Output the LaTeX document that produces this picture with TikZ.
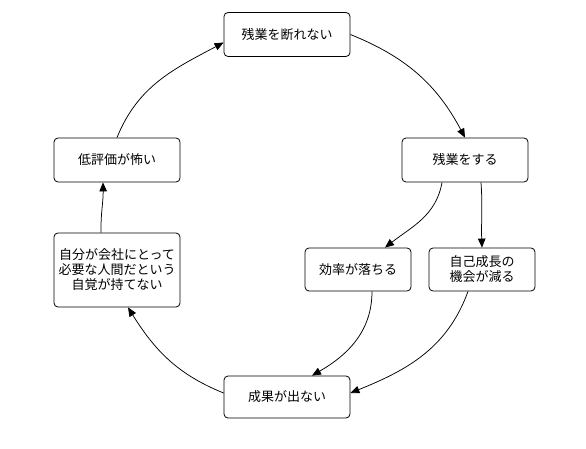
\documentclass[tikz,border=0pt]{standalone}
\usepackage{fontspec}
\setmainfont{Noto Sans CJK JP}
\usepackage{tikz}
\usetikzlibrary{arrows.meta}

\tikzset{
  box/.style={draw, rounded corners=4pt, line width=.8pt, inner sep=0pt,
    minimum width=126pt, minimum height=44pt, align=center,
    font=\fontsize{13}{15}\selectfont},
  flow/.style={-{Triangle[length=9pt,width=7.5pt]}, line width=.75pt},
}

\begin{document}
\begin{tikzpicture}[x=1pt,y=-1pt]
  \useasboundingbox (0,0) rectangle (586,449);
  \node (nr) [box] at (287,34.5) {残業を断れない};
  \node (ov) [box] at (465,160) {残業をする};
  \node (fe) [box] at (117,160) {低評価が怖い};
  \node (aw) [box, minimum height=74pt] at (117,270)
    {自分が会社にとって\\必要な人間だという\\自覚が持てない};
  \node (ef) [box, minimum width=106pt, minimum height=43pt] at (358,269.5) {効率が落ちる};
  \node (gr) [box, minimum width=106pt, minimum height=43pt] at (482,269.5)
    {自己成長の\\機会が減る};
  \node (rs) [box, minimum height=42pt] at (287,397) {成果が出ない};
  \draw[flow] (fe.north) to[out=68, in=208] ([yshift=-8pt]nr.west);
  \draw[flow] (nr.east) to[out=-22, in=118] (ov.north);
  \draw[flow] ([xshift=-23pt]ov.south) to[out=-100, in=38] ([xshift=27pt]ef.north);
  \draw[flow] ([xshift=16pt]ov.south) to[out=-86, in=92] (gr.north);
  \draw[flow] ([xshift=14pt]ef.south) to[out=-90, in=30] ([xshift=25pt]rs.north);
  \draw[flow] ([xshift=-14pt]gr.south) to[out=-110, in=22] ([yshift=4pt]rs.east);
  \draw[flow] ([yshift=4pt]rs.west) to[out=158, in=-58] ([xshift=11pt]aw.south);
  \draw[flow] ([xshift=-16pt]aw.north) to[out=91, in=-89] ([xshift=-14pt]fe.south);
\end{tikzpicture}
\end{document}
